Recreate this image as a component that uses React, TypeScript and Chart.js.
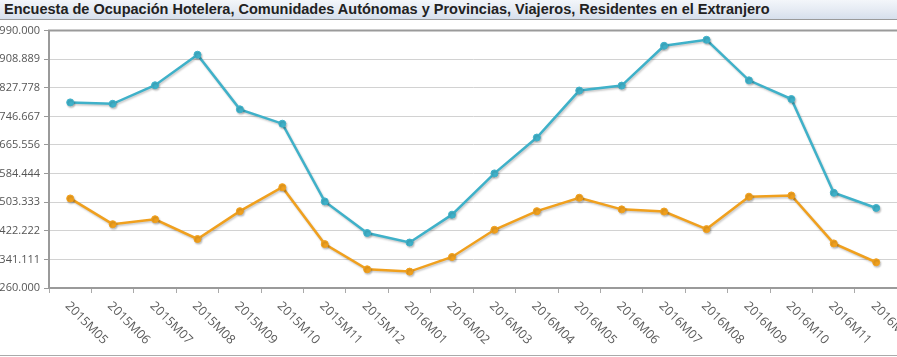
import { useEffect, useRef } from 'react';
import { Chart, registerables } from 'chart.js';

Chart.register(...registerables);

const TITLE =
  'Encuesta de Ocupación Hotelera, Comunidades Autónomas y Provincias, Viajeros, Residentes en el Extranjero';

const categories = [
  '2015M05', '2015M06', '2015M07', '2015M08', '2015M09', '2015M10', '2015M11', '2015M12',
  '2016M01', '2016M02', '2016M03', '2016M04', '2016M05', '2016M06', '2016M07', '2016M08',
  '2016M09', '2016M10', '2016M11', '2016M12',
];

const seriesBlue = [
  786400, 782400, 835000, 921600, 766700, 726000, 505600, 416000,
  389000, 468000, 585000, 686700, 820000, 834000, 947000, 964000,
  849000, 796000, 530000, 487000,
];

const seriesOrange = [
  514000, 441000, 455000, 399000, 478000, 546000, 384500, 313000,
  306500, 348000, 425000, 478000, 516000, 483000, 477000, 427000,
  519000, 522500, 386500, 333000,
];

const yTickValues = [
  260000, 341111, 422222, 503333, 584444, 665556, 746667, 827778, 908889, 990000,
];

const BLUE = '#3fb1c9';
const ORANGE = '#f0a01e';

function fmt(v: number): string {
  const s = Math.round(v).toString();
  return s.replace(/\B(?=(\d{3})+(?!\d))/g, '.');
}

const shadowPlugin = {
  id: 'lineShadow',
  beforeDatasetsDraw(chart: any) {
    const ctx = chart.ctx;
    ctx.save();
    ctx.shadowColor = 'rgba(0,0,0,0.22)';
    ctx.shadowBlur = 2;
    ctx.shadowOffsetX = 1;
    ctx.shadowOffsetY = 1.5;
  },
  afterDatasetsDraw(chart: any) {
    chart.ctx.restore();
  },
};

const decorPlugin = {
  id: 'decor',
  afterDraw(chart: any) {
    const { ctx, chartArea } = chart;
    const x = chart.scales.x;
    ctx.save();
    ctx.strokeStyle = '#9a9a9a';
    ctx.lineWidth = 2;
    ctx.beginPath();
    ctx.moveTo(chartArea.left - 1, chartArea.top);
    ctx.lineTo(chartArea.right + 60, chartArea.top);
    ctx.stroke();

    ctx.font = '12.5px "Open Sans"';
    ctx.fillStyle = '#5a5a5a';
    ctx.textAlign = 'left';
    ctx.textBaseline = 'middle';
    categories.forEach((label, i) => {
      const px = x.getPixelForValue(i);
      ctx.save();
      ctx.translate(px - 3, chartArea.bottom + 16);
      ctx.rotate(Math.PI / 4);
      ctx.fillText(label, 0, 0);
      ctx.restore();
    });
    ctx.restore();
  },
};

export default function App() {
  const canvasRef = useRef<HTMLCanvasElement | null>(null);

  useEffect(() => {
    const canvas = canvasRef.current;
    if (!canvas) return;
    const chart = new Chart(canvas, {
      type: 'line',
      data: {
        labels: categories,
        datasets: [
          {
            label: 'Serie 1',
            data: seriesBlue,
            borderColor: BLUE,
            backgroundColor: BLUE,
            borderWidth: 2.5,
            pointRadius: 3.5,
            pointBorderWidth: 1,
            pointBackgroundColor: BLUE,
            pointBorderColor: BLUE,
            tension: 0,
          },
          {
            label: 'Serie 2',
            data: seriesOrange,
            borderColor: ORANGE,
            backgroundColor: ORANGE,
            borderWidth: 2.5,
            pointRadius: 3.5,
            pointBorderWidth: 1,
            pointBackgroundColor: ORANGE,
            pointBorderColor: ORANGE,
            tension: 0,
          },
        ],
      },
      options: {
        responsive: false,
        animation: false,
        events: [],
        layout: { padding: { top: 9, right: 52.6, bottom: 0, left: 0 } },
        plugins: {
          legend: { display: false },
          title: { display: false },
          tooltip: { enabled: false },
        },
        scales: {
          x: {
            type: 'category',
            offset: true,
            grid: {
              offset: true,
              drawOnChartArea: false,
              drawTicks: true,
              tickLength: 5,
              color: '#aaaaaa',
            },
            border: { color: '#9a9a9a', width: 2 },
            ticks: { display: false },
            afterFit: (scale: any) => {
              scale.height = 67;
            },
          },
          y: {
            min: 260000,
            max: 990000,
            grid: {
              color: '#d2d2d2',
              tickColor: '#999999',
              tickLength: 5,
              lineWidth: 1,
            },
            border: { color: '#9a9a9a', width: 2 },
            ticks: {
              color: '#555',
              padding: 4,
              font: { family: '"Open Sans"', size: 11 },
              callback: (v: any) => fmt(Number(v)),
            },
            afterBuildTicks: (scale: any) => {
              scale.ticks = yTickValues.map((v) => ({ value: v }));
            },
            afterFit: (scale: any) => {
              scale.width = 49;
            },
          },
        },
      },
      plugins: [shadowPlugin, decorPlugin],
    });
    return () => chart.destroy();
  }, []);

  return (
    <div
      style={{
        position: 'absolute',
        left: 0,
        top: 0,
        width: 897,
        height: 355,
        overflow: 'hidden',
        borderBottom: '1px solid #aaaaaa',
        background: '#ffffff',
      }}
    >
      <div
        style={{
          height: 19,
          lineHeight: '19px',
          borderBottom: '1px solid #9a9a9a',
          background: 'linear-gradient(to bottom, #f3f6fa 0%, #e3e9f2 60%, #d6dfec 100%)',
          fontFamily: 'Arial, "Liberation Sans", sans-serif',
          fontWeight: 'bold',
          fontSize: 14.5,
          color: '#222',
          paddingLeft: 4,
          whiteSpace: 'nowrap',
          overflow: 'hidden',
        }}
      >
        {TITLE}
      </div>
      <canvas ref={canvasRef} width={950} height={335} style={{ display: 'block' }} />
    </div>
  );
}
